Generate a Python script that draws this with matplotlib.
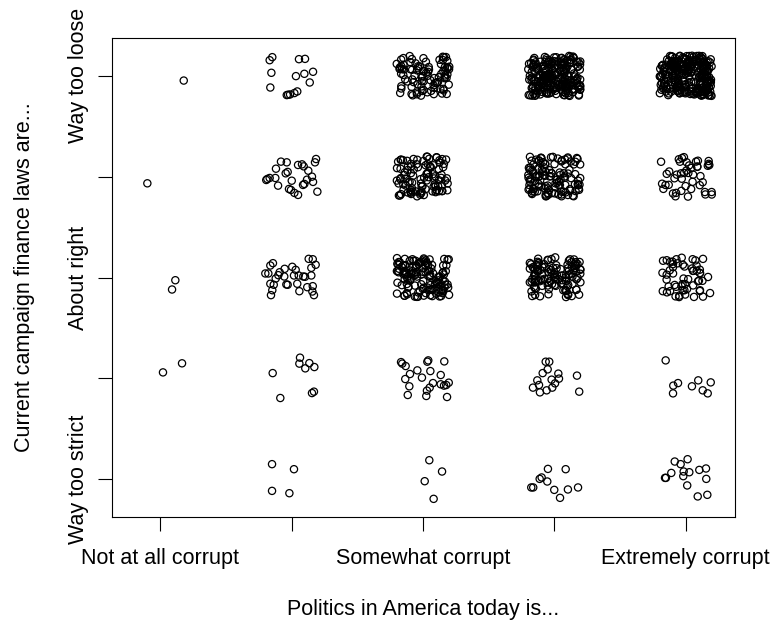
import numpy as np
import matplotlib
matplotlib.use('Agg')
import matplotlib.pyplot as plt

# x: "Politics in America today is...", y: "Current campaign finance laws are..."
x_labels = ['Not at all corrupt', '', 'Somewhat corrupt', '', 'Extremely corrupt']
y_labels = ['Way too strict', '', 'About right', '', 'Way too loose']

# sparse cells, values (already jittered)
sparse_x = [1.179, 0.902, 1.115, 1.090, 1.021, 1.166,
            # x=2, y=5
            1.853, 1.833, 2.056, 2.102, 1.846, 2.033, 2.097, 2.163, 2.138, 1.838,
            1.963, 1.988, 2.021, 2.043, 1.973,
            # x=2, y=4
            2.186, 2.178, 1.919, 1.963, 2.049, 2.079, 2.092, 1.881, 2.127, 1.970,
            1.955, 1.815, 1.807, 1.833, 1.876, 2.001, 2.155, 2.117, 2.163, 1.897,
            2.087, 2.097, 1.980, 1.995, 2.021, 2.049, 2.196,
            # x=2, y=3
            2.130, 2.161, 2.183, 2.150, 1.858, 1.838, 1.800, 1.823, 1.947, 2.005,
            2.031, 1.909, 1.899, 1.944, 1.879, 2.018, 2.054, 2.089, 2.102, 2.150,
            1.838, 1.864, 1.960, 1.970, 2.043, 2.119, 2.161, 1.853, 2.059, 2.158,
            1.843, 2.170,
            # y=2
            2.064, 2.059, 2.104, 2.135, 2.173, 1.856, 2.155, 2.170, 1.914,
            2.833, 2.842, 2.868, 3.033, 3.040, 3.162, 2.957, 3.056, 2.901, 2.865,
            2.992, 3.135, 3.076, 3.051, 3.030, 2.896, 3.135, 3.160, 3.177, 3.196,
            2.884, 3.025, 3.183,
            3.934, 3.961, 3.949, 3.911, 4.030, 4.172, 3.870, 3.979, 4.035, 4.005,
            3.883, 3.837, 3.984, 3.941, 3.890, 4.189,
            4.847, 4.905, 4.941, 4.903, 5.047, 5.095, 5.129, 5.167, 5.190,
            # y=1
            1.851, 2.018, 1.851, 1.983,
            3.048, 3.145, 3.013, 3.081,
            3.951, 4.086, 3.888, 3.903, 3.946, 3.824, 3.839, 3.999, 4.103, 4.180, 4.043,
            4.916, 4.961, 5.014, 4.890, 4.849, 4.842, 4.984, 5.027, 4.981, 5.103,
            5.154, 5.156, 5.011, 5.091, 5.164]
sparse_y = [4.953, 3.934, 2.973, 2.881, 2.059, 2.149,
            5.185, 5.155, 5.165, 5.168, 5.030, 4.997, 5.020, 5.040, 4.934, 4.884,
            4.809, 4.815, 4.829, 4.845, 4.812,
            4.175, 4.142, 4.149, 4.142, 4.116, 4.122, 4.102, 4.079, 4.059, 4.047,
            4.033, 3.977, 3.967, 3.987, 3.987, 3.960, 4.000, 3.970, 3.948, 3.911,
            3.918, 3.928, 3.878, 3.868, 3.839, 3.819, 3.851,
            3.185, 3.181, 3.126, 3.096, 3.142, 3.119, 3.040, 3.040, 3.086, 3.106,
            3.076, 3.052, 3.023, 3.010, 2.990, 3.020, 3.020, 3.010, 3.007, 3.020,
            2.938, 2.928, 2.931, 2.928, 2.938, 2.904, 2.914, 2.874, 2.864, 2.861,
            2.825, 2.825,
            2.205, 2.146, 2.099, 2.151, 2.112, 2.052, 1.854, 1.868, 1.805,
            2.161, 2.146, 2.122, 2.165, 2.178, 2.168, 2.079, 2.072, 2.043, 1.993,
            2.007, 2.033, 1.953, 1.908, 1.878, 1.921, 1.941, 1.928, 1.934, 1.957,
            1.835, 1.825, 1.815,
            2.165, 2.165, 2.089, 2.052, 2.047, 2.027, 1.980, 1.987, 1.997, 1.950,
            1.934, 1.908, 1.908, 1.881, 1.861, 1.868,
            2.178, 1.928, 1.953, 1.851, 1.921, 1.980, 1.881, 1.851, 1.960,
            1.149, 1.099, 0.884, 0.861,
            1.188, 1.076, 0.980, 0.805,
            1.102, 1.099, 1.003, 1.017, 0.977, 0.918, 0.918, 0.894, 0.898, 0.918, 0.815,
            1.175, 1.149, 1.198, 1.062, 1.013, 1.013, 1.076, 1.069, 1.030, 1.092,
            1.106, 1.003, 0.938, 0.829, 0.845]

# dense cells: only the counts can be read (estimated)
dense_x = [3, 4, 5, 3, 4, 5, 3, 4, 5]
dense_y = [3, 3, 3, 4, 4, 4, 5, 5, 5]
dense_n = [130, 120, 55, 100, 120, 45, 90, 220, 260]

# jitter like R's jitter() (amount 0.2)
rng = np.random.default_rng(7)
xs, ys = [], []
for cx, cy, n in zip(dense_x, dense_y, dense_n):
    xs.append(np.full(n, cx) + rng.uniform(-0.2, 0.2, n))
    ys.append(np.full(n, cy) + rng.uniform(-0.2, 0.2, n))
xs = np.concatenate([np.array(sparse_x)] + xs)
ys = np.concatenate([np.array(sparse_y)] + ys)

plt.rcParams['font.family'] = ['Liberation Sans', 'DejaVu Sans']
fig = plt.figure(figsize=(7.74, 6.25), dpi=100)
ax = fig.add_axes([0.1442, 0.1728, 0.8058, 0.7664])
ax.scatter(xs, ys, s=27, facecolors='none', edgecolors='black', linewidths=0.9)
ax.set_xlim(0.630, 5.377)
ax.set_ylim(0.625, 5.375)
ax.set_xticks([1, 2, 3, 4, 5])
ax.set_xticklabels(x_labels, fontsize=15.5)
ax.set_yticks([1, 2, 3, 4, 5])
ax.set_yticklabels(y_labels, fontsize=15.5, rotation=90, va='center')
ax.tick_params(length=10, width=0.8)
ax.tick_params(axis='x', pad=12)
ax.tick_params(axis='y', pad=6)
for sp in ax.spines.values():
    sp.set_linewidth(0.8)
ax.set_xlabel('Politics in America today is...', fontsize=15.5, labelpad=22)
ax.set_ylabel('Current campaign finance laws are...', fontsize=15.5, labelpad=24)
fig.savefig('out.png', dpi=100)
